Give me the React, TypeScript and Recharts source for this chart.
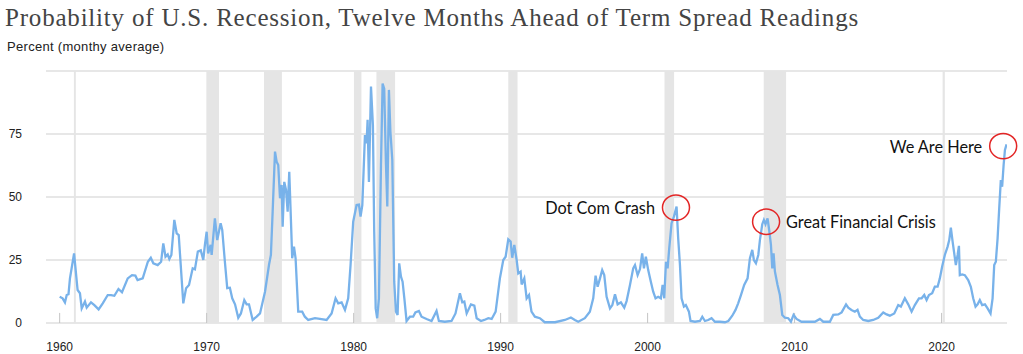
import React from "react";
import {
  LineChart,
  Line,
  XAxis,
  YAxis,
  CartesianGrid,
  ReferenceArea,
  ReferenceLine,
  ReferenceDot,
} from "recharts";

// [year, probability %]
const seg1960s: [number, number][] = [
  [1960.0, 10.4], [1960.2, 9.8], [1960.36, 8.2], [1960.48, 11.1], [1960.6, 11.4], [1960.7, 17.7],
  [1960.98, 27.6], [1961.22, 13.1], [1961.38, 11.8], [1961.5, 5.8], [1961.72, 8.5], [1961.84, 6.1],
  [1962.13, 8.2], [1962.36, 7.1], [1962.65, 5.4], [1962.93, 7.8], [1963.27, 11.1], [1963.5, 11.1],
  [1963.72, 10.8], [1964.0, 13.5], [1964.24, 12.2], [1964.63, 17.7], [1964.92, 19], [1965.15, 18.8],
  [1965.3, 17], [1965.65, 17.7], [1966.0, 24.3], [1966.2, 25.9], [1966.37, 23.7], [1966.67, 23],
  [1966.9, 24.3], [1967.05, 31.6], [1967.2, 26.3], [1967.35, 27.2], [1967.46, 25.4], [1967.6, 27],
  [1967.8, 40.9], [1967.96, 35.6], [1968.1, 34.9], [1968.41, 7.8], [1968.6, 13.8], [1968.8, 15.1],
  [1969.05, 21.7], [1969.2, 21.3], [1969.4, 28.3], [1969.6, 28.8], [1969.77, 25], [1969.88, 31],
];
const seg1970s: [number, number][] = [
  [1970.0, 36.2], [1970.1, 27.6], [1970.27, 31], [1970.34, 27], [1970.56, 41.5], [1970.72, 32.9],
  [1970.95, 39.6], [1971.06, 36.9], [1971.24, 24.3], [1971.4, 13.8], [1971.58, 14], [1971.74, 9.8],
  [1971.93, 7.4], [1972.15, 2.1], [1972.33, 3.8], [1972.56, 9.1], [1972.72, 7.4], [1972.88, 7.4],
  [1973.13, 1.2], [1973.4, 2.5], [1973.63, 3.8], [1973.97, 12.4], [1974.24, 23], [1974.37, 27],
  [1974.49, 44.2], [1974.65, 68], [1974.76, 64], [1974.87, 62.7], [1974.99, 49.5], [1975.1, 54.8],
  [1975.17, 38.2], [1975.28, 56], [1975.4, 52.8], [1975.51, 44.2], [1975.62, 60], [1975.73, 41.5],
  [1975.82, 25.7], [1975.94, 30.3], [1976.05, 25.7], [1976.23, 4.5], [1976.5, 4.5], [1976.68, 2.5],
  [1976.91, 1.2], [1977.37, 1.9], [1977.7, 1.6], [1978.16, 1.2], [1978.5, 3.8], [1978.77, 9.8],
  [1978.95, 7.8], [1979.18, 8.2], [1979.41, 5.2], [1979.63, 9.8], [1979.79, 23], [1979.97, 40.2],
];
const seg1980s: [number, number][] = [
  [1980.2, 46.8], [1980.36, 47], [1980.47, 42.2], [1980.59, 46.8], [1980.77, 74.6], [1980.88, 71.3],
  [1980.95, 80.6], [1981.04, 56], [1981.18, 93.8], [1981.31, 78.6], [1981.4, 36.2], [1981.5, 5.8],
  [1981.6, 1.9], [1981.72, 9.8], [1981.86, 62.7], [1981.97, 95], [1982.08, 93], [1982.2, 62.7],
  [1982.29, 46.2], [1982.4, 92.5], [1982.5, 76], [1982.63, 64.7], [1982.76, 16.4], [1982.88, 4.5],
  [1982.99, 3.2], [1983.1, 23.7], [1983.22, 18.4], [1983.33, 16.4], [1983.45, 9.8], [1983.6, 0.8],
  [1983.83, 2.5], [1984.05, 2.5], [1984.2, 4.2], [1984.44, 4.8], [1984.62, 2.5], [1984.96, 1.6],
  [1985.3, 0.8], [1985.64, 4.8], [1985.8, 0.8], [1986.2, 0.5], [1986.66, 0.8], [1986.93, 3.8],
  [1987.23, 11.8], [1987.39, 8.2], [1987.53, 8.5], [1987.69, 3.8], [1987.98, 7.4], [1988.21, 6.9],
  [1988.37, 1.9], [1988.66, 0.8], [1988.89, 1.2], [1989.16, 1.9], [1989.39, 1.6], [1989.66, 4.5],
  [1989.95, 17.7],
];
const seg1990s: [number, number][] = [
  [1990.18, 25], [1990.34, 26.3], [1990.52, 33.2], [1990.68, 32.3], [1990.79, 25.9], [1990.93, 31],
  [1991.09, 25], [1991.2, 19.7], [1991.36, 20.4], [1991.43, 15.3], [1991.61, 17.7], [1991.77, 9.8],
  [1991.93, 11.1], [1992.1, 4.5], [1992.33, 2.5], [1992.67, 1.9], [1993.0, 0.3], [1993.7, 0.3],
  [1994.37, 1.2], [1994.78, 2.2], [1995.05, 1.2], [1995.28, 0.5], [1995.73, 1.9], [1996.07, 4.5],
  [1996.3, 9.8], [1996.46, 18.8], [1996.6, 14.4], [1996.76, 17.7], [1996.91, 21], [1997.05, 19],
  [1997.21, 10.4], [1997.44, 5.8], [1997.6, 7.1], [1997.78, 11.4], [1997.96, 7.4], [1998.18, 8.2],
  [1998.41, 6.1], [1998.57, 8.7], [1998.8, 15.1], [1999.02, 21.7], [1999.14, 23], [1999.32, 19],
  [1999.48, 21.4], [1999.63, 27.6], [1999.75, 21.7], [1999.88, 26.3],
];
const seg2000s: [number, number][] = [
  [2000.04, 21], [2000.22, 16.4], [2000.38, 12.4], [2000.54, 9.8], [2000.72, 10.4], [2000.9, 9.8],
  [2001.02, 15.1], [2001.13, 9.8], [2001.25, 24.3], [2001.36, 21.7], [2001.47, 29.6], [2001.63, 39.6],
  [2001.79, 42.2], [2001.97, 46.2], [2002.08, 33.6], [2002.2, 23], [2002.31, 9.8], [2002.47, 6.5],
  [2002.6, 7.1], [2002.81, 4.5], [2002.92, 0.8], [2003.22, 0.5], [2003.56, 0.8], [2003.72, 2.5],
  [2003.9, 0.8], [2004.12, 1.2], [2004.35, 1.9], [2004.58, 0.5], [2004.92, 0.5], [2005.26, 0.3],
  [2005.49, 0.8], [2005.76, 2.9], [2005.98, 5.2], [2006.16, 7.8], [2006.35, 11.1], [2006.57, 15.1],
  [2006.8, 17.7], [2006.96, 25.7], [2007.12, 29], [2007.23, 25], [2007.37, 23.7], [2007.53, 27],
  [2007.64, 32.9], [2007.8, 39.2], [2007.91, 40.9], [2008.02, 39.2], [2008.16, 41.5], [2008.27, 36.9],
  [2008.39, 31], [2008.48, 21.7], [2008.57, 27.6], [2008.66, 20.4], [2008.84, 15.1], [2009.0, 11.1],
  [2009.16, 3.2], [2009.34, 2.1], [2009.57, 1.9], [2009.75, 0.5], [2009.93, 3.2],
];
const seg2010s: [number, number][] = [
  [2010.13, 1.6], [2010.47, 0.5], [2010.93, 0.5], [2011.38, 0.5], [2011.72, 1.6], [2011.95, 0.5],
  [2012.4, 0.5], [2012.63, 3.2], [2012.97, 3.4], [2013.2, 4.2], [2013.5, 7.4], [2013.65, 6.1],
  [2013.87, 5.2], [2014.1, 4.5], [2014.28, 5.2], [2014.44, 2.5], [2014.67, 1.2], [2015.01, 0.8],
  [2015.35, 1.2], [2015.69, 2.1], [2016.03, 4.2], [2016.26, 3.4], [2016.48, 2.9], [2016.78, 3.8],
  [2017.05, 7.1], [2017.23, 6.5], [2017.5, 9.8], [2017.73, 7.4], [2017.96, 4.5], [2018.18, 7.1],
  [2018.46, 9.8], [2018.64, 9.8], [2018.82, 11.1], [2018.98, 9.1], [2019.14, 11.1], [2019.36, 11.8],
  [2019.54, 14.4], [2019.73, 14.4], [2019.88, 17.7],
];
const seg2020s: [number, number][] = [
  [2020.04, 22.4], [2020.22, 27], [2020.41, 30.3], [2020.52, 32.9], [2020.63, 37.8], [2020.75, 32.3],
  [2020.86, 27.6], [2020.97, 23], [2021.09, 27], [2021.18, 30.6], [2021.24, 19], [2021.4, 19.3],
  [2021.58, 19], [2021.81, 17], [2021.99, 14.4], [2022.15, 9.8], [2022.31, 6.5], [2022.45, 7.4],
  [2022.6, 9.1], [2022.76, 7.1], [2022.95, 7.4], [2023.13, 5.8], [2023.33, 3.8], [2023.47, 9.8],
  [2023.58, 23], [2023.69, 24.3], [2023.81, 33.6], [2023.92, 45.5], [2024.03, 56.7], [2024.12, 54.1],
  [2024.22, 62.7], [2024.31, 68.7], [2024.42, 70.9],
];

// recession periods [start, end]
const recessions: [number, number][] = [
  [1960.97, 1961.1],
  [1969.98, 1970.84],
  [1973.9, 1975.12],
  [1980.02, 1980.53],
  [1981.55, 1982.82],
  [1990.52, 1991.15],
  [2001.15, 2001.8],
  [2007.9, 2009.42],
  [2020.07, 2020.22],
];

const xTicks = [1960, 1970, 1980, 1990, 2000, 2010, 2020];
const yTicks = [0, 25, 50, 75, 100];

// annotations
const annotations: { year: number; value: number; label: string; side: "left" | "right" }[] = [
  { year: 2001.93, value: 45.8, label: "Dot Com Crash", side: "left" },
  { year: 2008.06, value: 40.2, label: "Great Financial Crisis", side: "right" },
  { year: 2024.19, value: 70.2, label: "We Are Here", side: "left" },
];

const data = [...seg1960s, ...seg1970s, ...seg1980s, ...seg1990s, ...seg2000s, ...seg2010s, ...seg2020s].map(
  ([year, prob]) => ({ year, prob })
);

const axisFont = { fontFamily: "'Liberation Sans', Arial, sans-serif", fontSize: 12, fill: "#222" };

export default function App() {
  return (
    <div style={{ position: "absolute", left: 0, top: 0, width: 1023, height: 354, background: "#fff" }}>
      <div
        style={{
          position: "absolute",
          left: 5,
          top: 3,
          fontFamily: "'Liberation Serif', 'Times New Roman', serif",
          fontSize: 25,
          letterSpacing: 0.8,
          color: "#444",
          whiteSpace: "nowrap",
          lineHeight: "30px",
        }}
      >
        Probability of U.S. Recession, Twelve Months Ahead of Term Spread Readings
      </div>
      <div
        style={{
          position: "absolute",
          left: 7,
          top: 40,
          fontFamily: "'Liberation Sans', Arial, sans-serif",
          fontSize: 13,
          letterSpacing: 0.3,
          color: "#222",
          whiteSpace: "nowrap",
          lineHeight: "14px",
        }}
      >
        Percent (monthy average)
      </div>
      <div style={{ position: "absolute", left: 0, top: 0 }}>
        <LineChart width={1023} height={354} data={data} margin={{ top: 71, right: 16, bottom: 0, left: 0 }}>
          <CartesianGrid vertical={false} stroke="#cfcfcf" strokeWidth={1.2} />
          {recessions.map(([a, b], i) => (
            <ReferenceArea key={i} x1={a} x2={b} y1={0} y2={100} fill="#e5e5e5" fillOpacity={1} stroke="none" ifOverflow="visible" />
          ))}
          {xTicks.map((t) => (
            <ReferenceLine
              key={"t" + t}
              segment={[{ x: t, y: 0 }, { x: t, y: 4 }]}
              stroke="#c4c4c4"
              strokeWidth={1}
              ifOverflow="visible"
            />
          ))}
          <XAxis
            dataKey="year"
            type="number"
            domain={[1959.07, 2024.45]}
            allowDataOverflow
            ticks={xTicks}
            tickLine={false}
            axisLine={false}
            tickMargin={13}
            height={31}
            tick={axisFont}
            interval={0}
          />
          <YAxis
            type="number"
            domain={[0, 100]}
            ticks={yTicks}
            tickFormatter={(v: number) => (v === 100 ? "" : String(v))}
            tickLine={false}
            axisLine={false}
            tickMargin={18}
            width={46}
            tick={axisFont}
            interval={0}
          />
          <Line
            type="linear"
            dataKey="prob"
            stroke="#78b2ea"
            strokeWidth={2.3}
            dot={false}
            isAnimationActive={false}
          />
          {annotations.map((a) => (
            <ReferenceDot
              key={a.label}
              x={a.year}
              y={a.value}
              ifOverflow="visible"
              shape={(p: any) => (
                <g>
                  <ellipse cx={p.cx} cy={p.cy} rx={13.5} ry={12.7} fill="none" stroke="#e32626" strokeWidth={1.5} />
                  <text
                    x={a.side === "left" ? p.cx - 21 : p.cx + 20}
                    y={p.cy}
                    textAnchor={a.side === "left" ? "end" : "start"}
                    dominantBaseline="central"
                    fontFamily="Lato, 'Open Sans', sans-serif"
                    fontSize={16.3}
                    fill="#111"
                  >
                    {a.label}
                  </text>
                </g>
              )}
            />
          ))}
        </LineChart>
      </div>
    </div>
  );
}
